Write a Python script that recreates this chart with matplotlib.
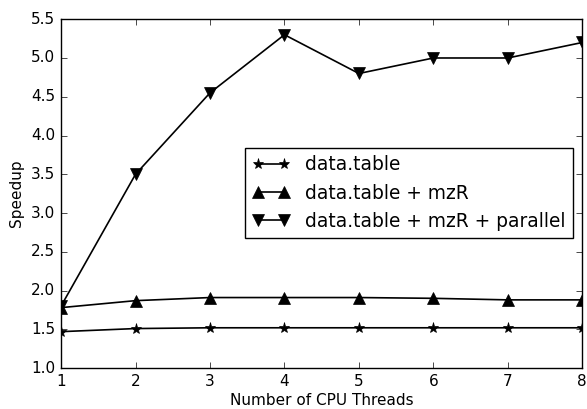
import matplotlib
matplotlib.use("Agg")
import matplotlib.pyplot as plt

# =====================================================
# SPEEDUP DATA
# =====================================================

threads = [1, 2, 3, 4, 5, 6, 7, 8]

speedup_dt = [1.47, 1.51, 1.52, 1.52, 1.52, 1.52, 1.52, 1.52]
speedup_dt_mzr = [1.78, 1.87, 1.91, 1.91, 1.91, 1.90, 1.88, 1.88]
speedup_dt_mzr_par = [1.80, 3.50, 4.55, 5.30, 4.80, 5.00, 5.00, 5.20]

labels = [
    "data.table",
    "data.table + mzR",
    "data.table + mzR + parallel",
]

plt.style.use("classic")

fig = plt.figure(figsize=(5.87, 4.09), dpi=100, facecolor="white")
ax = fig.add_axes([0.104, 0.100, 0.888, 0.853])

ax.plot(threads, speedup_dt, "k-*", lw=1.2, markersize=8, label=labels[0])
ax.plot(threads, speedup_dt_mzr, "k-^", lw=1.2, markersize=8, label=labels[1])
ax.plot(threads, speedup_dt_mzr_par, "k-v", lw=1.2, markersize=8, label=labels[2])

ax.set_xlim(1, 8)
ax.set_ylim(1.0, 5.5)
ax.tick_params(labelsize=11)

ax.set_xlabel("Number of CPU Threads", fontsize=11, labelpad=3)
ax.set_ylabel("Speedup", fontsize=11)

ax.legend(
    loc="lower left",
    bbox_to_anchor=(0.353, 0.372),
    borderaxespad=0,
    numpoints=2,
    fontsize=13.4,
    labelspacing=0.5,
)

fig.savefig("out.png", dpi=100, facecolor="white")
